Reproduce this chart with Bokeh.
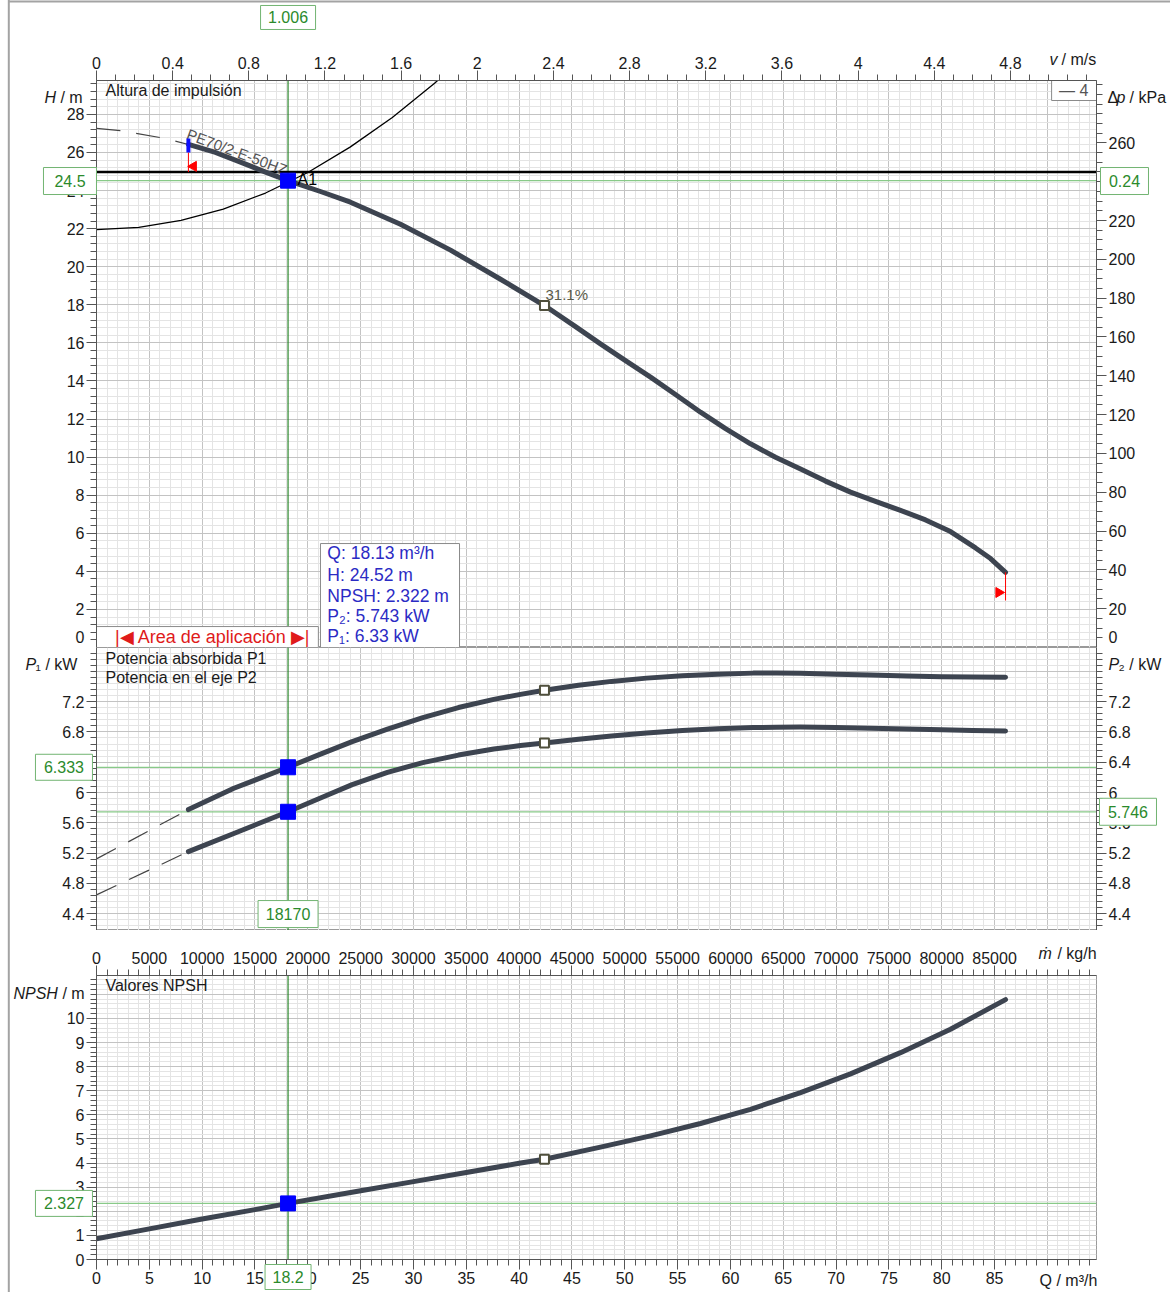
import numpy as np
from bokeh.plotting import figure
from bokeh.models import (Range1d, LinearAxis, FixedTicker, Grid, Span, Label,
                          SingleIntervalTicker, NumeralTickFormatter)
from bokeh.layouts import column
from bokeh.embed import file_html
from bokeh.resources import INLINE
from bokeh.core.properties import value

FONT = "Liberation Sans"
CURVE = "#3d4450"
GRID_MAJ = "#c3c3c3"
GRID_MIN = "#e4e4e4"
G_DARK = "#2a862a"
G_LIGHT = "#88c988"
G_TEXT = "#2b8a2b"
G_BORDER = "#72b472"
PAGE_LINE = "#a3a3a3"

# ---------------- data ----------------
Q_MAX = 94.65
H_MAX = 29.78
P_MIN, P_MAX = 4.18, 7.913
NPSH_MAX = 11.78
V_PER_Q = 0.05549      # m/s per m3/h
KG_PER_Q = 1000.0      # kg/h per m3/h
KPA_PER_M = 9.81       # kPa per m

Q_OP = 18.13
H_OP = 24.52
P1_OP = 6.333
P2_OP = 5.746
NPSH_OP = 2.327
H_REQ = 24.97
Q_BEP = 42.4
H_BEP = 17.96
P1_BEP = 7.35
P2_BEP = 6.654
NPSH_BEP = 4.16
Q_START = 8.7
Q_END = 86.04

q_head_ext = [0.0, 2.27, 6.34, 8.7]
h_head_ext = [27.27, 27.15, 26.75, 26.42]
q_head = [8.7, 11.26, 13.63, 16.0, 18.13, 21.20, 24.04, 28.77, 33.51, 38.24, 42.4,
          45.34, 47.70, 50.07, 52.44, 54.80, 57.17, 59.54, 61.90, 64.27, 66.64,
          69.00, 71.37, 73.73, 76.10, 78.47, 80.83, 83.20, 84.62, 86.04]
h_head = [26.42, 26.00, 25.49, 24.97, 24.52, 23.95, 23.39, 22.23, 20.87, 19.34, 17.96,
          16.85, 15.95, 15.07, 14.20, 13.29, 12.36, 11.50, 10.70, 9.99, 9.38,
          8.74, 8.16, 7.67, 7.20, 6.70, 6.09, 5.23, 4.67, 3.95]

q_sys = [0, 4, 8, 12, 16, 20, 24, 28, 32, 34]
h_sys = [21.95, 22.07, 22.43, 23.03, 23.87, 24.95, 26.28, 27.84, 29.64, 30.63]

q_pow_ext = [0.0, 8.7]
p1_ext = [5.125, 5.775]
p2_ext = [4.65, 5.221]
q_pow = [8.7, 13.0, 18.13, 21.20, 24.20, 27.54, 30.89, 34.26, 37.60, 40.13, 42.4,
         45.62, 48.75, 52.06, 55.46, 58.78, 62.15, 64.36, 66.62, 69.95, 73.31,
         76.67, 80.01, 82.91, 86.04]
p1_vals = [5.775, 6.056, 6.333, 6.507, 6.672, 6.837, 6.989, 7.121, 7.229, 7.295, 7.349,
           7.414, 7.466, 7.509, 7.539, 7.561, 7.575, 7.576, 7.572, 7.561, 7.550,
           7.538, 7.528, 7.525, 7.522]
p2_vals = [5.221, 5.46, 5.746, 5.927, 6.104, 6.266, 6.395, 6.494, 6.573, 6.620, 6.654,
           6.704, 6.746, 6.786, 6.817, 6.841, 6.857, 6.862, 6.864, 6.858, 6.849,
           6.839, 6.828, 6.819, 6.811]

q_npsh = [0, 5, 10, 15, 18.13, 25, 30, 35, 40, 42.4, 47.7, 52.44, 57.17, 61.9,
          66.64, 71.37, 76.1, 80.83, 86.04]
npsh_vals = [0.86, 1.27, 1.68, 2.07, 2.327, 2.85, 3.23, 3.61, 3.99, 4.16, 4.66, 5.13,
             5.64, 6.23, 6.92, 7.70, 8.58, 9.55, 10.78]

H_TICKS = list(range(2, 29, 2))          # the "0" is written separately
H_MINOR = [round(i * 0.4, 2) for i in range(0, 75)]
DP_TICKS = list(range(20, 261, 20))
DP_MINOR = list(range(0, 292, 5))
V_TICKS = [round(i * 0.4, 1) for i in range(0, 13)]
V_MINOR = [round(i * 0.1, 1) for i in range(0, 53)]
P_TICKS = [round(4.4 + i * 0.4, 1) for i in range(0, 8)]
P_MINOR = [round(4.24 + i * 0.08, 2) for i in range(0, 47)]
KG_TICKS = list(range(0, 85001, 5000))
KG_MINOR = list(range(0, 94001, 1000))
NPSH_TICKS = list(range(0, 11))
NPSH_MINOR = [round(i * 0.2, 1) for i in range(0, 59)]
Q_TICKS = list(range(0, 86, 5))
Q_MINOR = list(range(0, 95))


# ---------------- helpers ----------------
def make_fig(height, top, bottom, y_rng):
    p = figure(width=1170, height=height, x_range=Range1d(0, Q_MAX), y_range=y_rng,
               x_axis_type=None, y_axis_type=None, output_backend="svg",
               toolbar_location=None, min_border_left=96, min_border_right=74,
               min_border_top=top, min_border_bottom=bottom)
    p.outline_line_color = "#9a9a9a"
    p.background_fill_color = "white"
    p.border_fill_color = "white"
    return p


def add_grid(p, xint, yint, ynum=5):
    p.add_layout(Grid(dimension=0, ticker=SingleIntervalTicker(interval=xint, num_minor_ticks=5),
                      grid_line_color=GRID_MAJ, minor_grid_line_color=GRID_MIN))
    p.add_layout(Grid(dimension=1, ticker=SingleIntervalTicker(interval=yint, num_minor_ticks=ynum),
                      grid_line_color=GRID_MAJ, minor_grid_line_color=GRID_MIN))


def style_axis(ax, ticks, minor, fmt="0.[0]"):
    ax.ticker = FixedTicker(ticks=ticks, minor_ticks=minor)
    ax.formatter = NumeralTickFormatter(format=fmt)
    ax.major_tick_out = 10
    ax.major_tick_in = 0
    ax.minor_tick_out = 6
    ax.minor_tick_in = 0
    ax.axis_line_color = "#555555"
    ax.major_tick_line_color = "#555555"
    ax.minor_tick_line_color = "#555555"
    ax.major_label_text_font = FONT
    ax.major_label_text_font_size = "16px"
    ax.major_label_text_color = "#1a1a1a"
    ax.major_label_standoff = 2
    return ax


def lab(p, x, y, text, size="16px", color="#1a1a1a", align="left", baseline="middle"):
    p.add_layout(Label(x=x, y=y, text=text, text_font=FONT, text_font_size=size,
                       text_color=color, text_align=align, text_baseline=baseline))


def otext(p, x, y, text, align="left", italic=False, baseline="middle", size="16px"):
    # text drawn on the overlay level so that it may sit in the plot border
    p.text(x=[x], y=[y], text=[text], text_font=value(FONT), text_font_size=size,
           text_font_style="italic" if italic else "normal", text_color="#1a1a1a",
           text_align=align, text_baseline=baseline, level="overlay")


def gbox(p, x, y, text, w, h):
    p.rect(x=[x], y=[y], width=w, height=h, width_units="screen", height_units="screen",
           fill_color="white", line_color=G_BORDER, line_width=1, level="overlay")
    p.text(x=[x], y=[y], text=[text], text_font=value(FONT), text_font_size="16px",
           text_color=G_TEXT, text_align="center", text_baseline="middle", level="overlay")


def page_edge(p, x, y0, y1):
    p.segment(x0=[x], y0=[y0], x1=[x], y1=[y1], line_color=PAGE_LINE, line_width=2,
              level="overlay")


def vline(p, loc):
    p.add_layout(Span(location=loc, dimension="height", line_color=G_DARK,
                      line_width=1.2, level="underlay"))


def hline(p, loc, color=G_LIGHT, width=1.2):
    p.add_layout(Span(location=loc, dimension="width", line_color=color,
                      line_width=width, level="underlay"))


EDGE_Q = -8.3   # left page rule, in m3/h units

# ================= Panel 1 : head =================
p1 = make_fig(80 + 567, 80, 0, Range1d(0, H_MAX))
p1.extra_x_ranges = {"v": Range1d(0, Q_MAX * V_PER_Q)}
p1.extra_y_ranges = {"dp": Range1d(0, H_MAX * KPA_PER_M)}
add_grid(p1, 5, 2)
p1.add_layout(style_axis(LinearAxis(), H_TICKS, H_MINOR), "left")
p1.add_layout(style_axis(LinearAxis(y_range_name="dp"), DP_TICKS, DP_MINOR), "right")
p1.add_layout(style_axis(LinearAxis(x_range_name="v"), V_TICKS, V_MINOR), "above")

vline(p1, Q_OP)
hline(p1, H_OP)
hline(p1, H_REQ, color="black", width=2.5)

# boxes
p1.quad(left=[0], right=[21.0], bottom=[0], top=[1.10], fill_color="white",
        line_color="#8a8a8a", line_width=1)
p1.quad(left=[21.2], right=[34.36], bottom=[0], top=[5.46], fill_color="white",
        line_color="#8a8a8a", line_width=1)
p1.quad(left=[90.4], right=[Q_MAX], bottom=[28.73], top=[H_MAX], fill_color="white",
        line_color="#8a8a8a", line_width=1)

# curves
p1.line(q_sys, h_sys, line_color="black", line_width=1.3)
p1.line(q_head_ext, h_head_ext, line_color="#444444", line_width=1.2, line_dash="24 16")
p1.text(x=[8.33], y=[26.58], text=["PE70/2-E-50HZ"], angle=-0.354,
        text_font=value(FONT), text_font_size="15px", text_color="#555555",
        text_align="left", text_baseline="bottom")
p1.line(q_head, h_head, line_color=CURVE, line_width=5, line_cap="round", line_join="round")

# range limits
p1.segment(x0=[Q_START], y0=[H_REQ], x1=[Q_START], y1=[26.0], line_color="red", line_width=1)
p1.segment(x0=[Q_START], y0=[26.0], x1=[Q_START], y1=[26.73], line_color="#1010ff", line_width=4)
p1.scatter([9.18], [25.27], marker="triangle", size=10, angle=np.pi / 2,
           fill_color="red", line_color="red")
p1.segment(x0=[Q_END], y0=[3.95], x1=[Q_END], y1=[2.47], line_color="red", line_width=1)
p1.scatter([85.4], [2.89], marker="triangle", size=10, angle=-np.pi / 2,
           fill_color="red", line_color="red")

p1.scatter([Q_BEP], [H_BEP], marker="square", size=9, fill_color="white",
           line_color="#4f4f3c", line_width=2)
p1.scatter([Q_OP], [H_OP], marker="square", size=15, fill_color="#0000ff", line_color="#0000ff")

p1.text(x=[19.03], y=[24.16], text=["A1"], text_font=value(FONT), text_font_size="16px",
        text_color="black", text_align="left", text_baseline="bottom")
p1.text(x=[42.5], y=[18.12], text=["31.1%"], text_font=value(FONT), text_font_size="15px",
        text_color="#5a5a4a", text_align="left", text_baseline="bottom")

# texts inside the frame
lab(p1, 0.85, 29.25, "Altura de impulsión")
lab(p1, 92.5, 29.25, "— 4", color="#555555", align="center")
lab(p1, 11.0, 0.56, "|◀ Area de aplicación ▶|", size="18px", color="#e01b1b", align="center")
info = ["Q: 18.13 m³/h", "H: 24.52 m", "NPSH: 2.322 m", " P₂: 5.743 kW", " P₁: 6.33 kW"]
info_y = [4.94, 3.83, 2.73, 1.68, 0.58]
for t, yy in zip(info, info_y):
    lab(p1, 21.85, yy, t, size="17.5px", color="#2b2bc4")

# axis titles and border texts
otext(p1, -4.92, 28.89, "H", italic=True)
otext(p1, -3.41, 28.89, "/ m")
otext(p1, 95.69, 28.89, "Δ")
otext(p1, 96.55, 28.89, "p", italic=True)
otext(p1, 97.78, 28.89, "/ kPa")
otext(p1, 90.20, 30.88, "v", italic=True)
otext(p1, 91.34, 30.88, "/ m/s")
otext(p1, -1.136, 0.55, "0", align="right")
otext(p1, 95.79, 0.55, "0", align="left")
gbox(p1, Q_OP, 33.09, "1.006", 55, 24)
gbox(p1, -2.51, 24.5, "24.5", 53, 27)
gbox(p1, 97.30, 24.5, "0.24", 48, 27)
page_edge(p1, EDGE_Q, -1.0, 34.5)
p1.segment(x0=[EDGE_Q], y0=[33.93], x1=[101.8], y1=[33.93], line_color=PAGE_LINE,
           line_width=2, level="overlay")

# ================= Panel 2 : power =================
p2 = make_fig(283, 0, 0, Range1d(P_MIN, P_MAX))
add_grid(p2, 5, 0.4)
p2.add_layout(style_axis(LinearAxis(), P_TICKS, P_MINOR), "left")
p2.add_layout(style_axis(LinearAxis(), P_TICKS, P_MINOR), "right")

vline(p2, Q_OP)
hline(p2, P1_OP)
hline(p2, P2_OP)

p2.line(q_pow_ext, p1_ext, line_color="#444444", line_width=1.2, line_dash="22 14")
p2.line(q_pow_ext, p2_ext, line_color="#444444", line_width=1.2, line_dash="22 14")
p2.line(q_pow, p1_vals, line_color=CURVE, line_width=5, line_cap="round", line_join="round")
p2.line(q_pow, p2_vals, line_color=CURVE, line_width=5, line_cap="round", line_join="round")
p2.scatter([Q_BEP, Q_BEP], [P1_BEP, P2_BEP], marker="square", size=9, fill_color="white",
           line_color="#4f4f3c", line_width=2)
p2.scatter([Q_OP, Q_OP], [P1_OP, P2_OP], marker="square", size=15, fill_color="#0000ff",
           line_color="#0000ff")

lab(p2, 0.85, 7.767, "Potencia absorbida P1")
lab(p2, 0.85, 7.517, "Potencia en el eje P2")
otext(p2, -6.72, 7.688, "P", italic=True)
otext(p2, -5.77, 7.688, "₁ / kW")
otext(p2, 95.79, 7.688, "P", italic=True)
otext(p2, 96.74, 7.688, "₂ / kW")
gbox(p2, -3.08, P1_OP, "6.333", 57, 26)
gbox(p2, 97.63, P2_OP, "5.746", 57, 27)
gbox(p2, Q_OP, 4.397, "18170", 60, 27)
page_edge(p2, EDGE_Q, P_MIN - 1.0, P_MAX + 1.0)

# ================= Panel 3 : NPSH =================
p3 = make_fig(45 + 284 + 33, 45, 33, Range1d(0, NPSH_MAX))
p3.extra_x_ranges = {"m": Range1d(0, Q_MAX * KG_PER_Q)}
add_grid(p3, 5, 1)
p3.add_layout(style_axis(LinearAxis(), NPSH_TICKS, NPSH_MINOR), "left")
p3.add_layout(style_axis(LinearAxis(x_range_name="m"), KG_TICKS, KG_MINOR, fmt="0"), "above")
p3.add_layout(style_axis(LinearAxis(), Q_TICKS, Q_MINOR), "below")

vline(p3, Q_OP)
hline(p3, NPSH_OP)
p3.line(q_npsh, npsh_vals, line_color=CURVE, line_width=5, line_cap="round", line_join="round")
p3.scatter([Q_BEP], [NPSH_BEP], marker="square", size=9, fill_color="white",
           line_color="#4f4f3c", line_width=2)
p3.scatter([Q_OP], [NPSH_OP], marker="square", size=15, fill_color="#0000ff", line_color="#0000ff")

lab(p3, 0.85, 11.37, "Valores NPSH")
otext(p3, -7.86, 11.04, "NPSH", italic=True)
otext(p3, -3.22, 11.04, "/ m")
otext(p3, 89.17, 12.70, "ṁ", italic=True)
otext(p3, 90.95, 12.70, "/ kg/h")
otext(p3, 89.26, -0.871, "Q / m³/h")
gbox(p3, -3.08, NPSH_OP, "2.327", 57, 26)
gbox(p3, Q_OP, -0.726, "18.2", 46, 25)
page_edge(p3, EDGE_Q, -2.0, 14.5)

layout = column(p1, p2, p3, spacing=0)
open("out.html", "w").write(file_html(layout, INLINE))
